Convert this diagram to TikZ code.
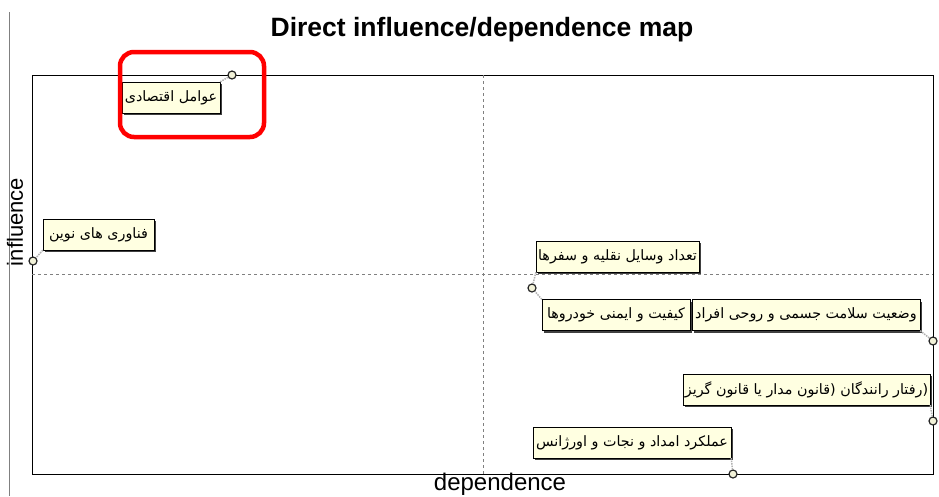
\documentclass[tikz,border=0pt]{standalone}
\usepackage{fontspec}
\setmainfont{Liberation Sans}
\newfontfamily\persianfont[Script=Arabic]{DejaVu Sans}
\TeXXeTstate=1
\usetikzlibrary{shadows}
\definecolor{tipyellow}{HTML}{FFFFE1}
\definecolor{ptfill}{HTML}{F2F2D8}
\tikzset{
  varbox/.style={draw=black, fill=tipyellow, inner sep=2pt, minimum height=31pt,
    font=\persianfont\fontsize{14.3}{16}\selectfont,
    drop shadow={shadow xshift=2pt, shadow yshift=-2pt, fill=black!75, opacity=1}},
  varpt/.style={circle, draw=black!85, fill=ptfill, line width=1.2pt, minimum size=8pt, inner sep=0pt},
  link/.style={gray!60, densely dotted, line width=1.5pt}
}
\begin{document}
\begin{tikzpicture}[x=1pt,y=-1pt]
    \useasboundingbox [fill=white](0,0) rectangle (939,496);

    % frame and axes
    \draw [gray, thin](9,12) -- (9,496);
    \draw [line width=0.9pt](32,75) rectangle (933,474);
    \draw [gray, dashed, thin](483,75) -- (483,474);
    \draw [gray, dashed, thin](32,274) -- (933,274);

    \node [anchor=base, font=\bfseries\fontsize{26.5}{30}\selectfont] (title) at (482,36) {Direct influence/dependence map};
    \node [anchor=base, rotate=90, font=\fontsize{22}{26}\selectfont] (yaxis) at (23,222) {influence};
    \node [anchor=base, font=\fontsize{24}{28}\selectfont] (xaxis) at (500,490) {dependence};

    % points
    \node [varpt] (econpt) at (232,75) {};
    \node [varpt] (techpt) at (33,261) {};
    \node [varpt] (vehpt) at (532,288) {};
    \node [varpt] (healthpt) at (933,341) {};
    \node [varpt] (driverpt) at (933,421) {};
    \node [varpt] (rescuept) at (733,474) {};

    % labels
    \node [varbox, minimum width=98pt] (econ) at (171,97.5) {\beginR عوامل اقتصادی\endR};
    \node [varbox, minimum width=111pt] (tech) at (98.5,234.5) {\beginR فناوری های نوین\endR};
    \node [varbox, minimum width=161pt] (veh) at (617.5,256.5) {\beginR تعداد وسایل نقلیه و سفرها\endR};
    \node [varbox, minimum width=148pt] (quality) at (616,315) {\beginR کیفیت و ایمنی خودروها\endR};
    \node [varbox, minimum width=228pt] (health) at (806,315) {\beginR وضعیت سلامت جسمی و روحی افراد\endR};
    \node [varbox, minimum width=247pt] (driver) at (806.5,389.5) {\beginR (رفتار رانندگان (قانون مدار یا قانون گریز\endR};
    \node [varbox, minimum width=198pt] (rescue) at (632,442.5) {\beginR عملکرد امداد و نجات و اورژانس\endR};

    \draw [link](econ.north east) -- (econpt);
    \draw [link](tech.south west) -- (techpt);
    \draw [link](veh.south west) -- (vehpt);
    \draw [link](quality.north west) -- (vehpt);
    \draw [link](health.south east) -- (healthpt);
    \draw [link](driver.south east) -- (driverpt);
    \draw [link](rescue.south east) -- (rescuept);

    % highlight
    \draw [red, line width=4.5pt, rounded corners=14pt](120,52) rectangle (264,137);
\end{tikzpicture}
\end{document}
